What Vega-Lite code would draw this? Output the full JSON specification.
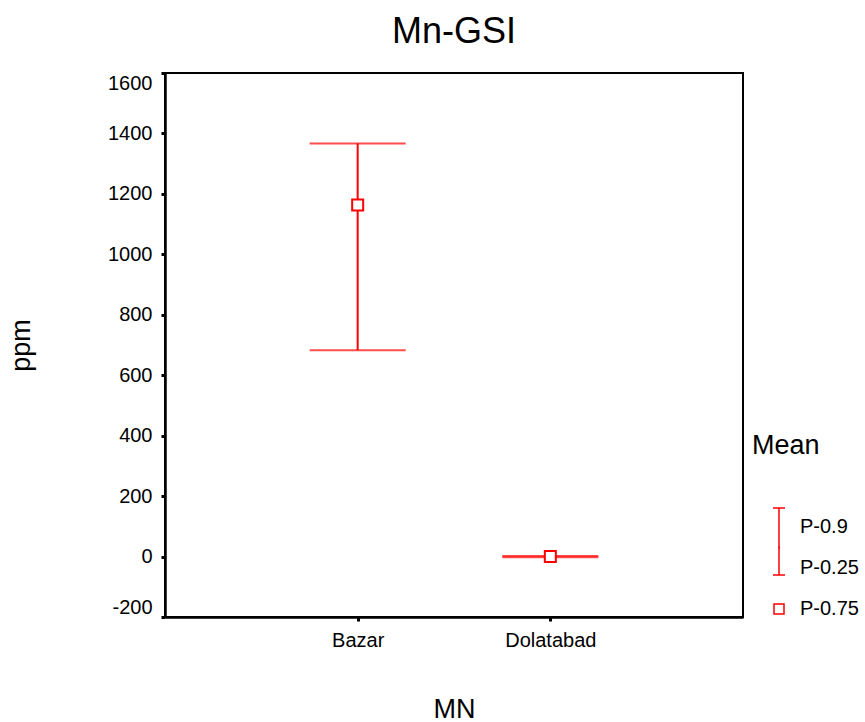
{
  "$schema": "https://vega.github.io/schema/vega-lite/v6.json",
  "width": 578,
  "height": 544,
  "autosize": {"type": "none"},
  "padding": {"left": 165, "top": 73, "right": 122, "bottom": 105},
  "background": "white",
  "title": {
    "text": "Mn-GSI",
    "fontSize": 36,
    "font": "Liberation Sans",
    "fontWeight": "normal",
    "color": "black",
    "anchor": "middle",
    "baseline": "alphabetic",
    "offset": -7
  },
  "config": {
    "font": "Liberation Sans",
    "view": {"stroke": "black", "strokeWidth": 2},
    "axis": {
      "grid": false,
      "domainColor": "black",
      "domainWidth": 2.5,
      "tickColor": "black",
      "tickWidth": 3,
      "tickSize": 4,
      "labelFont": "Liberation Sans",
      "labelFontSize": 20,
      "labelColor": "black",
      "titleFont": "Liberation Sans",
      "titleFontSize": 27,
      "titleFontWeight": "normal",
      "titleColor": "black"
    },
    "legend": {
      "titleFont": "Liberation Sans",
      "titleFontSize": 27,
      "titleFontWeight": "normal",
      "titleColor": "black",
      "labelFont": "Liberation Sans",
      "labelFontSize": 20,
      "labelColor": "black"
    }
  },
  "data": {
    "values": [
      {"MN": "Bazar", "p90": 1367, "p25": 683, "p75": 1163},
      {"MN": "Dolatabad", "p90": 2, "p25": -2, "p75": 0}
    ]
  },
  "encoding": {
    "x": {
      "field": "MN",
      "type": "nominal",
      "scale": {"type": "point", "padding": 1},
      "axis": {
        "title": "MN",
        "labelAngle": 0,
        "labelPadding": 9,
        "titleBaseline": "alphabetic",
        "titleY": 100
      }
    }
  },
  "layer": [
    {
      "mark": {"type": "rule", "color": "#ff0000", "strokeWidth": 2},
      "encoding": {
        "y": {
          "field": "p25",
          "type": "quantitative",
          "scale": {"domain": [-200, 1600], "nice": false, "zero": false},
          "axis": {
            "title": "ppm",
            "values": [-200, 0, 200, 400, 600, 800, 1000, 1200, 1400, 1600],
            "labelExpr": "datum.value + ''",
            "labelFlush": true,
            "labelPadding": 9,
            "titleAngle": -90,
            "titleAlign": "center",
            "titleBaseline": "alphabetic",
            "titleX": -136,
            "titleY": 272
          }
        },
        "y2": {"field": "p90"}
      }
    },
    {
      "mark": {"type": "tick", "color": "#ff0000", "size": 96, "thickness": 2, "orient": "horizontal"},
      "encoding": {"y": {"field": "p90", "type": "quantitative"}}
    },
    {
      "mark": {"type": "tick", "color": "#ff0000", "size": 96, "thickness": 2, "orient": "horizontal"},
      "encoding": {"y": {"field": "p25", "type": "quantitative"}}
    },
    {
      "mark": {"type": "point", "filled": true, "fill": "white", "stroke": "#ff0000", "size": 121, "strokeWidth": 2, "opacity": 1},
      "encoding": {
        "y": {"field": "p75", "type": "quantitative"},
        "shape": {
          "datum": "P-0.75",
          "scale": {
            "domain": ["P-0.9", "P-0.25", "P-0.75"],
            "range": [
              "M-1.2,-3.8L1.2,-3.8M0,-3.8L0,4.3",
              "M0,-4.3L0,1.4M-1.2,1.4L1.2,1.4M0,4",
              "M0,-4.8M-1,-1L1,-1L1,1L-1,1Z"
            ]
          },
          "legend": {
            "title": "Mean",
            "orient": "none",
            "legendX": 587,
            "legendY": 360,
            "titlePadding": 57,
            "rowPadding": -9,
            "symbolOffset": 17,
            "labelOffset": 11,
            "symbolSize": 100,
            "encode": {
              "symbols": {
                "update": {
                  "stroke": {"value": "#ff0000"},
                  "fill": {"value": "white"},
                  "strokeWidth": {"value": 2},
                  "opacity": {"value": 1},
                  "size": {"value": 100}
                }
              }
            }
          }
        }
      }
    }
  ]
}
